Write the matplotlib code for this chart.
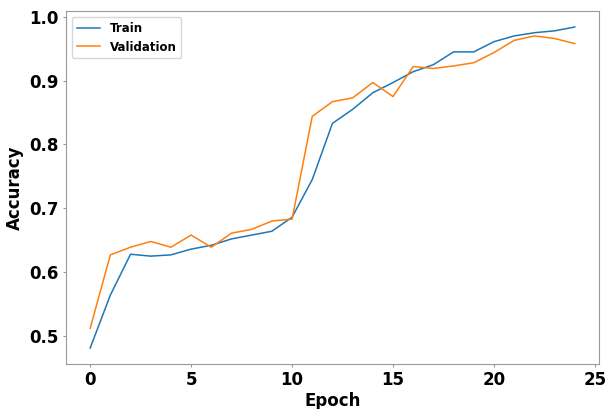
import matplotlib
matplotlib.use("Agg")
import matplotlib.pyplot as plt

# Accuracy per epoch
epochs = list(range(25))
train_acc = [0.481, 0.564, 0.628, 0.625, 0.627, 0.636, 0.642, 0.652, 0.658, 0.664,
             0.686, 0.745, 0.833, 0.855, 0.881, 0.897, 0.914, 0.925, 0.945, 0.945,
             0.961, 0.970, 0.975, 0.978, 0.984]
val_acc = [0.512, 0.627, 0.639, 0.648, 0.639, 0.658, 0.639, 0.661, 0.667, 0.680,
           0.683, 0.844, 0.867, 0.873, 0.897, 0.875, 0.922, 0.919, 0.923, 0.928,
           0.944, 0.963, 0.970, 0.966, 0.958]

#================================
fig = plt.figure(figsize=(6.05, 4.09), dpi=100)
ax = fig.add_axes([0.109, 0.110, 0.881, 0.863])

ax.plot(epochs, train_acc, label="Train", color="#1f77b4", linewidth=1.1)
ax.plot(epochs, val_acc, label="Validation", color="#ff7f0e", linewidth=1.1)

ax.set_xlabel("Epoch", fontsize=12, fontweight="bold", labelpad=2)
ax.set_ylabel("Accuracy", fontsize=12, fontweight="bold", labelpad=4)
ax.set_xticks([0, 5, 10, 15, 20, 25])
ax.set_yticks([0.5, 0.6, 0.7, 0.8, 0.9, 1.0])
ax.set_xlim(-1.2, 25.2)
ax.set_ylim(0.456, 1.009)
ax.tick_params(length=2.5, pad=2.5, color="#999999")
for lbl in ax.get_xticklabels() + ax.get_yticklabels():
    lbl.set_fontsize(12)
    lbl.set_fontweight("bold")

for sp in ax.spines.values():
    sp.set_color("#999999")

ax.legend(loc="upper left", prop={"weight": "bold", "size": 8.5})

fig.savefig("out.png", dpi=100)
